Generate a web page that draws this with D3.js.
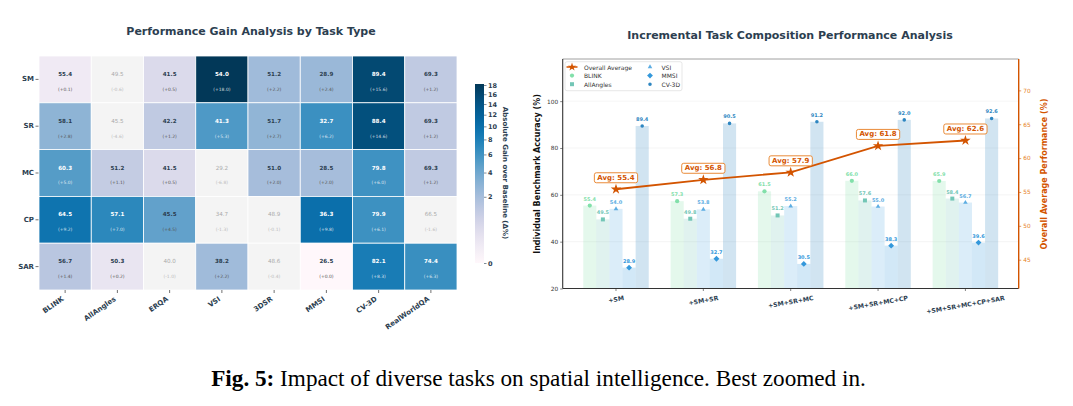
<!DOCTYPE html>
<html>
<head>
<meta charset="utf-8">
<script src="https://cdn.jsdelivr.net/npm/d3@7"></script>
<style>
  body { margin: 0; background: #fff; }
  svg { display: block; font-family: "DejaVu Sans", sans-serif; }
</style>
</head>
<body>
<svg id="figure" width="1073" height="406"></svg>
<script>
// ---- heatmap data ----
const taskRows = ["SM", "SR", "MC", "CP", "SAR"];
const benchCols = ["BLINK", "AllAngles", "ERQA", "VSI", "3DSR", "MMSI", "CV-3D", "RealWorldQA"];
const heatScores = [
  [55.4, 49.5, 41.5, 54.0, 51.2, 28.9, 89.4, 69.3],
  [58.1, 45.5, 42.2, 41.3, 51.7, 32.7, 88.4, 69.3],
  [60.3, 51.2, 41.5, 29.2, 51.0, 28.5, 79.8, 69.3],
  [64.5, 57.1, 45.5, 34.7, 48.9, 36.3, 79.9, 66.5],
  [56.7, 50.3, 40.0, 38.2, 48.6, 26.5, 82.1, 74.4],
];
const heatGains = [
  [0.1, -0.6, 0.5, 18.0, 2.2, 2.4, 15.6, 1.2],
  [2.8, -4.6, 1.2, 5.3, 2.7, 6.2, 14.6, 1.2],
  [5.0, 1.1, 0.5, -6.8, 2.0, 2.0, 6.0, 1.2],
  [9.2, 7.0, 4.5, -1.3, -0.1, 9.8, 6.1, -1.6],
  [1.4, 0.2, -1.0, 2.2, -0.4, 0.0, 8.3, 6.3],
];
const gainTicks = [0, 2, 4, 6, 8, 10, 12, 14, 16, 18];

// ---- incremental composition data ----
const stages = ["+SM", "+SM+SR", "+SM+SR+MC", "+SM+SR+MC+CP", "+SM+SR+MC+CP+SAR"];
const blinkAcc = [55.4, 57.3, 61.5, 66.0, 65.9];
const allAnglesAcc = [49.5, 49.8, 51.2, 57.6, 58.4];
const vsiAcc = [54.0, 53.8, 55.2, 55.0, 56.7];
const mmsiAcc = [28.9, 32.7, 30.5, 38.3, 39.6];
const cv3dAcc = [89.4, 90.5, 91.2, 92.0, 92.6];
const overallAvg = [55.4, 56.8, 57.9, 61.8, 62.6];
const leftTicks = [20, 40, 60, 80, 100];
const rightTicks = [45, 50, 55, 60, 65, 70];

const svg = d3.select("#figure");
const ink = "#2c3e50";
const orange = "#d35400";

// ================= heatmap =================
svg.append("text")
  .attr("x", 251).attr("y", 35)
  .attr("text-anchor", "middle")
  .style("font-size", "11px").style("font-weight", "bold").style("fill", ink)
  .text("Performance Gain Analysis by Task Type");

let hx = d3.scaleBand().domain(benchCols).range([39, 457]);
let hy = d3.scaleBand().domain(taskRows).range([56, 290]);
let gainNorm = d3.scalePow().exponent(0.45).domain([0, 18]).range([0, 1]).clamp(true);

let cells = [];
taskRows.forEach((r, i) => {
  benchCols.forEach((c, j) => {
    cells.push({ row: r, col: c, score: heatScores[i][j], gain: heatGains[i][j] });
  });
});

let heat = svg.append("g");
heat.selectAll(".cell")
  .data(cells)
  .join("rect")
  .attr("class", "cell")
  .attr("x", (d) => hx(d.col))
  .attr("y", (d) => hy(d.row))
  .attr("width", hx.bandwidth())
  .attr("height", hy.bandwidth())
  .style("fill", (d) => (d.gain < 0 ? "#f4f4f4" : d3.interpolatePuBu(gainNorm(d.gain))))
  .style("stroke", "#fff")
  .style("stroke-width", 0.8);

let txtColor = (d) => (d.gain < 0 ? "#aaa" : d.gain >= 5 ? "#fff" : ink);

heat.selectAll(".score")
  .data(cells)
  .join("text")
  .attr("x", (d) => hx(d.col) + hx.bandwidth() / 2)
  .attr("y", (d) => hy(d.row) + hy.bandwidth() * 0.385)
  .attr("text-anchor", "middle")
  .attr("dominant-baseline", "central")
  .style("font-size", "5.6px")
  .style("font-weight", (d) => (d.gain < 0 ? "normal" : "bold"))
  .style("fill", txtColor)
  .text((d) => d.score.toFixed(1));

heat.selectAll(".gain")
  .data(cells)
  .join("text")
  .attr("x", (d) => hx(d.col) + hx.bandwidth() / 2)
  .attr("y", (d) => hy(d.row) + hy.bandwidth() * 0.71)
  .attr("text-anchor", "middle")
  .attr("dominant-baseline", "central")
  .style("font-size", "4.5px")
  .style("fill", (d) => (d.gain < 0 ? "#bbb" : d.gain >= 5 ? "rgba(255,255,255,0.8)" : "#555"))
  .text((d) => `(${d.gain < 0 ? "-" : "+"}${Math.abs(d.gain).toFixed(1)})`);

// row labels
taskRows.forEach((r) => {
  let cy = hy(r) + hy.bandwidth() / 2;
  heat.append("line")
    .attr("x1", 35.5).attr("x2", 38.5).attr("y1", cy).attr("y2", cy)
    .style("stroke", "#333").style("stroke-width", 0.7);
  heat.append("text")
    .attr("x", 34).attr("y", cy)
    .attr("text-anchor", "end").attr("dominant-baseline", "central")
    .style("font-size", "7px").style("font-weight", "bold").style("fill", ink)
    .text(r);
});

// column labels
benchCols.forEach((c) => {
  let cx = hx(c) + hx.bandwidth() / 2;
  heat.append("line")
    .attr("x1", cx).attr("x2", cx).attr("y1", 290).attr("y2", 293)
    .style("stroke", "#333").style("stroke-width", 0.7);
  heat.append("text")
    .attr("transform", `translate(${cx - 1},${300})rotate(-35)`)
    .attr("text-anchor", "end")
    .style("font-size", "7px").style("font-weight", "bold").style("fill", ink)
    .text(c);
});

// colorbar
let barTop = 84, barBottom = 263, barX = 475, barW = 9;
let grad = svg.append("defs").append("linearGradient")
  .attr("id", "gainGrad").attr("x1", 0).attr("x2", 0).attr("y1", 1).attr("y2", 0);
d3.range(0, 1.0001, 0.05).forEach((t) => {
  grad.append("stop").attr("offset", t).attr("stop-color", d3.interpolatePuBu(t));
});
svg.append("rect")
  .attr("x", barX).attr("y", barTop)
  .attr("width", barW).attr("height", barBottom - barTop)
  .style("fill", "url(#gainGrad)");

let barScale = d3.scalePow().exponent(0.45).domain([0, 18]).range([barBottom, barTop + 1]);
let barAxis = svg.append("g")
  .attr("transform", `translate(${barX + barW},0)`)
  .call(d3.axisRight(barScale).tickValues(gainTicks).tickSize(2.5).tickPadding(1.5));
barAxis.select(".domain").remove();
barAxis.selectAll("line").style("stroke", ink).style("stroke-width", 0.6);
barAxis.selectAll("text")
  .style("font-size", "6.5px").style("font-weight", "bold").style("fill", ink)
  .style("font-family", "DejaVu Sans");

svg.append("text")
  .attr("transform", `translate(${505},${173})rotate(90)`)
  .attr("text-anchor", "middle").attr("dominant-baseline", "central")
  .style("font-size", "7px").style("font-weight", "bold").style("fill", ink)
  .text("Absolute Gain over Baseline (\u0394%)");

// ================= incremental chart =================
let pLeft = 562.7, pRight = 1018.7, pTop = 59, pBottom = 288.5;

svg.append("text")
  .attr("x", 790).attr("y", 39)
  .attr("text-anchor", "middle")
  .style("font-size", "11px").style("font-weight", "bold").style("fill", ink)
  .text("Incremental Task Composition Performance Analysis");

let xStage = d3.scalePoint().domain(stages).range([pLeft, pRight]).padding(0.61);
let yLeft = d3.scaleLinear().domain([20, 118]).range([pBottom, pTop]);
let yRight = d3.scaleLinear().domain([40.75, 74.63]).range([pBottom, pTop]);

let series = [
  { name: "BLINK", values: blinkAcc, color: "#82e0aa", symbol: d3.symbolCircle, size: 14, rot: 0 },
  { name: "AllAngles", values: allAnglesAcc, color: "#73c6b6", symbol: d3.symbolSquare, size: 16, rot: 0 },
  { name: "VSI", values: vsiAcc, color: "#5dade2", symbol: d3.symbolTriangle, size: 9, rot: 0 },
  { name: "MMSI", values: mmsiAcc, color: "#3498db", symbol: d3.symbolSquare, size: 17, rot: 45 },
  { name: "CV-3D", values: cv3dAcc, color: "#2e86c1", symbol: d3.symbolCircle, size: 10, rot: 0 },
];
let xInner = d3.scaleBand().domain(series.map((s) => s.name)).range([-32.75, 32.75]);

// grid
svg.append("g").selectAll("line")
  .data(leftTicks.slice(1))
  .join("line")
  .attr("x1", pLeft).attr("x2", pRight)
  .attr("y1", (d) => yLeft(d)).attr("y2", (d) => yLeft(d))
  .style("stroke", "#eee").style("stroke-width", 0.6);

let barData = [];
series.forEach((s) => {
  s.values.forEach((v, i) => barData.push({ s: s, stage: stages[i], v: v }));
});

let plot = svg.append("g");
plot.selectAll(".bar")
  .data(barData)
  .join("rect")
  .attr("class", "bar")
  .attr("x", (d) => xStage(d.stage) + xInner(d.s.name))
  .attr("y", (d) => yLeft(d.v))
  .attr("width", xInner.bandwidth())
  .attr("height", (d) => yLeft(20) - yLeft(d.v))
  .style("fill", (d) => d.s.color)
  .style("fill-opacity", 0.22);

plot.selectAll(".marker")
  .data(barData)
  .join("path")
  .attr("class", "marker")
  .attr("d", (d) => d3.symbol().type(d.s.symbol).size(d.s.size)())
  .attr("transform", (d) =>
    `translate(${xStage(d.stage) + xInner(d.s.name) + xInner.bandwidth() / 2},${yLeft(d.v)})rotate(${d.s.rot})`)
  .style("fill", (d) => d.s.color);

plot.selectAll(".vlabel")
  .data(barData)
  .join("text")
  .attr("x", (d) => xStage(d.stage) + xInner(d.s.name) + xInner.bandwidth() / 2)
  .attr("y", (d) => yLeft(d.v) - 7)
  .attr("text-anchor", "middle").attr("dominant-baseline", "central")
  .style("font-size", "5px").style("font-weight", "bold")
  .style("fill", (d) => d.s.color)
  .text((d) => d.v.toFixed(1));

// overall average line
let avgPts = overallAvg.map((v, i) => ({ stage: stages[i], v: v }));
plot.append("path")
  .datum(avgPts)
  .attr("d", d3.line().x((d) => xStage(d.stage)).y((d) => yRight(d.v)))
  .style("fill", "none").style("stroke", orange).style("stroke-width", 1.8);
plot.selectAll(".star")
  .data(avgPts)
  .join("path")
  .attr("d", d3.symbol().type(d3.symbolStar).size(34)())
  .attr("transform", (d) => `translate(${xStage(d.stage)},${yRight(d.v)})`)
  .style("fill", orange);

avgPts.forEach((d) => {
  let g = plot.append("g")
    .attr("transform", `translate(${xStage(d.stage)},${yRight(d.v) - 11.5})`);
  let t = g.append("text")
    .attr("text-anchor", "middle").attr("dominant-baseline", "central")
    .style("font-size", "7px").style("font-weight", "bold").style("fill", orange)
    .text(`Avg: ${d.v.toFixed(1)}`);
  let w = t.node().getComputedTextLength() + 6;
  g.insert("rect", "text")
    .attr("x", -w / 2).attr("y", -5).attr("width", w).attr("height", 10)
    .attr("rx", 2)
    .style("fill", "#fff").style("stroke", "#e67e22").style("stroke-width", 0.9);
});

// spines
svg.append("line").attr("x1", pLeft).attr("x2", pRight).attr("y1", pTop).attr("y2", pTop)
  .style("stroke", "#888").style("stroke-width", 0.8);
svg.append("line").attr("x1", pLeft).attr("x2", pLeft).attr("y1", pTop).attr("y2", pBottom)
  .style("stroke", "#333").style("stroke-width", 1.1);
svg.append("line").attr("x1", pLeft).attr("x2", pRight).attr("y1", pBottom).attr("y2", pBottom)
  .style("stroke", "#333").style("stroke-width", 1.1);
svg.append("line").attr("x1", pRight).attr("x2", pRight).attr("y1", pTop).attr("y2", pBottom)
  .style("stroke", orange).style("stroke-width", 1.4);

// axes
let leftAxis = svg.append("g")
  .attr("transform", `translate(${pLeft},0)`)
  .call(d3.axisLeft(yLeft).tickValues(leftTicks).tickSize(2.5).tickPadding(2));
leftAxis.select(".domain").remove();
leftAxis.selectAll("line").style("stroke", "#333").style("stroke-width", 0.6);
leftAxis.selectAll("text").style("font-size", "5.8px").style("fill", "#333")
  .style("font-family", "DejaVu Sans");

let rightAxis = svg.append("g")
  .attr("transform", `translate(${pRight},0)`)
  .call(d3.axisRight(yRight).tickValues(rightTicks).tickSize(2.5).tickPadding(2));
rightAxis.select(".domain").remove();
rightAxis.selectAll("line").style("stroke", orange).style("stroke-width", 0.6);
rightAxis.selectAll("text").style("font-size", "5.8px").style("fill", "#e67e22")
  .style("font-family", "DejaVu Sans");

svg.append("text")
  .attr("transform", `translate(${537},${174})rotate(-90)`)
  .attr("text-anchor", "middle").attr("dominant-baseline", "central")
  .style("font-size", "8px").style("font-weight", "bold").style("fill", "#111")
  .text("Individual Benchmark Accuracy (%)");

svg.append("text")
  .attr("transform", `translate(${1044},${174})rotate(-90)`)
  .attr("text-anchor", "middle").attr("dominant-baseline", "central")
  .style("font-size", "8px").style("font-weight", "bold").style("fill", orange)
  .text("Overall Average Performance (%)");

// x tick labels, rotated 10deg and centered under the tick
stages.forEach((s) => {
  let x = xStage(s);
  svg.append("line").attr("x1", x).attr("x2", x).attr("y1", pBottom).attr("y2", pBottom + 2.5)
    .style("stroke", "#333").style("stroke-width", 0.6);
  let t = svg.append("text")
    .attr("text-anchor", "middle").attr("dominant-baseline", "central")
    .style("font-size", "6.2px").style("font-weight", "bold").style("fill", ink)
    .text(s);
  let L = t.node().getComputedTextLength();
  let h = 6.2 * 1.17;
  let a = (10 * Math.PI) / 180;
  let boxH = L * Math.sin(a) + h * Math.cos(a);
  t.attr("transform", `translate(${x},${294 + boxH / 2})rotate(-10)`);
});

// legend
let lg = svg.append("g").attr("transform", `translate(${565},${61.7})`);
lg.append("rect").attr("width", 117).attr("height", 29).attr("rx", 2)
  .style("fill", "#fff").style("fill-opacity", 0.9)
  .style("stroke", "#ddd").style("stroke-width", 0.7);
let legendItems = [{ name: "Overall Average", avg: true }].concat(series);
legendItems.forEach((d, i) => {
  let col = Math.floor(i / 3), row = i % 3;
  let mx = col === 0 ? 7 : 85;
  let ty = 5.3 + row * 8.6;
  let item = lg.append("g").attr("transform", `translate(0,${ty})`);
  if (d.avg) {
    item.append("line").attr("x1", 1.5).attr("x2", 12.5)
      .style("stroke", orange).style("stroke-width", 1.5);
    item.append("path").attr("d", d3.symbol().type(d3.symbolStar).size(22)())
      .attr("transform", "translate(7,0)").style("fill", orange);
  } else {
    item.append("path").attr("d", d3.symbol().type(d.symbol).size(d.size)())
      .attr("transform", `translate(${mx},0)rotate(${d.rot})`).style("fill", d.color);
  }
  item.append("text")
    .attr("x", col === 0 ? 19 : 96.5)
    .attr("dominant-baseline", "central")
    .style("font-size", "6px").style("fill", "#333")
    .text(d.name);
});

// ================= caption =================
let cap = svg.append("text")
  .attr("x", 538.5).attr("y", 386)
  .attr("text-anchor", "middle")
  .style("font-family", "'Liberation Serif', 'DejaVu Serif', serif")
  .style("font-size", "22px").style("fill", "#000");
cap.append("tspan").style("font-weight", "bold").text("Fig. 5:");
cap.append("tspan").text(" Impact of diverse tasks on spatial intelligence. Best zoomed in.");
let capLen = cap.node().getComputedTextLength();
cap.style("font-size", `${(22 * 655) / capLen}px`);
</script>
</body>
</html>
